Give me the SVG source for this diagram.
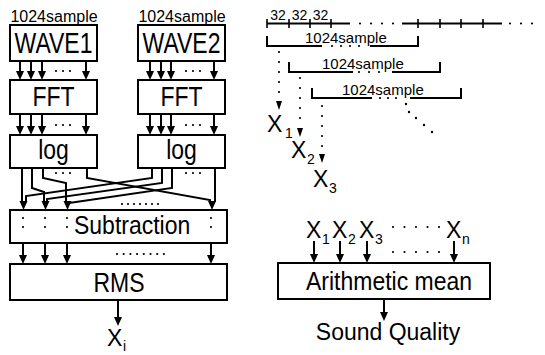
<svg xmlns="http://www.w3.org/2000/svg" width="545" height="355" viewBox="0 0 545 355">
<style>
.box{fill:#fff;stroke:#000;stroke-width:2}
.ln{fill:none;stroke:#000;stroke-width:2}
.thin{fill:none;stroke:#000;stroke-width:1.6}
.dot{fill:none;stroke:#000;stroke-width:2.2;stroke-linecap:round}
.big{font-family:"Liberation Sans",Arial,Helvetica,sans-serif;font-size:23px;fill:#000}
.mid{font-family:"Liberation Sans",Arial,Helvetica,sans-serif;font-size:16px;fill:#000}
.sm{font-family:"Liberation Sans",Arial,Helvetica,sans-serif;font-size:15px;fill:#000}
.xs{font-family:"Liberation Sans",Arial,Helvetica,sans-serif;font-size:14px;fill:#000}
.sub{font-family:"Liberation Sans",Arial,Helvetica,sans-serif;font-size:14px;fill:#000}
.c{text-anchor:middle}
</style>
<defs>
<path id="ah" d="M-4,-9 L4,-9 L0,0 Z" fill="#000"/>
<path id="ahs" d="M-3,-9 L3,-9 L0,0 Z" fill="#000"/>
</defs>

<g id="wave1">
<text class="mid c" x="54" y="22">1024sample</text>
<rect class="box" x="10" y="25" width="87" height="36"/>
<text class="big c" transform="translate(53.5,53) scale(1,1.25)">WAVE1</text>
</g>
<g id="wave2">
<text class="mid c" x="182" y="22">1024sample</text>
<rect class="box" x="138" y="25" width="87" height="36"/>
<text class="big c" transform="translate(181.5,53) scale(1,1.25)">WAVE2</text>
</g>
<g id="fft1">
<rect class="box" x="10" y="80" width="87" height="34"/>
<text class="big c" transform="translate(53.5,106) scale(1,1.2)">FFT</text>
</g>
<g id="fft2">
<rect class="box" x="138" y="80" width="87" height="34"/>
<text class="big c" transform="translate(181.5,106) scale(1,1.2)">FFT</text>
</g>
<g id="log1">
<rect class="box" x="10" y="135" width="87" height="33"/>
<text class="big c" transform="translate(53.5,159) scale(1,1.2)">log</text>
</g>
<g id="log2">
<rect class="box" x="138" y="135" width="87" height="33"/>
<text class="big c" transform="translate(181.5,159) scale(1,1.2)">log</text>
</g>
<g id="subtraction">
<rect class="box" x="10" y="210" width="217" height="33"/>
<path class="dot" d="M23,218 V236 M45,218 V236 M67,218 V236 M211,218 V236" stroke-dasharray="0 9"/>
<text class="big" transform="translate(74,234) scale(1,1.15)">Subtraction</text>
</g>
<g id="rms">
<rect class="box" x="10" y="264" width="217" height="36"/>
<text class="big c" transform="translate(119,292) scale(1,1.18)">RMS</text>
</g>
<g id="xi">
<text class="big" x="107" y="346">X</text><text class="sub" x="123" y="351">i</text>
</g>

<g id="timeline">
<path class="ln" d="M267,23.5 H350 M402,23.5 H502"/>
<path class="dot" d="M360,23.5 H394 M510,23.5 H543" stroke-dasharray="0 11"/>
<path class="thin" d="M267,19 V28 M289,19 V28 M310,19 V28 M331,19 V28 M418,19 V28 M440,19 V28 M461,19 V28 M483,19 V28"/>
<text class="xs c" x="278" y="20">32</text>
<text class="xs c" x="299.5" y="20">32</text>
<text class="xs c" x="320.5" y="20">32</text>
</g>
<g id="frame1">
<path class="ln" d="M267,36 V46 H322 M370,46 H418 V36"/>
<path class="dot" d="M332,46 H368" stroke-dasharray="0 9"/>
<text class="sm" x="305" y="43">1024sample</text>
</g>
<g id="frame2">
<path class="ln" d="M289,62 V72 H353 M392,72 H440 V62"/>
<path class="dot" d="M359,72 H389" stroke-dasharray="0 10"/>
<text class="sm" x="322" y="69">1024sample</text>
</g>
<g id="frame3">
<path class="ln" d="M312,88 V98 H372 M410,98 H461 V88"/>
<path class="dot" d="M380,98 H404" stroke-dasharray="0 8"/>
<text class="sm" x="342" y="95">1024sample</text>
</g>
<g id="x1">
<text class="big" x="267" y="132">X</text><text class="sub" x="285" y="138">1</text>
</g>
<g id="x2">
<text class="big" x="291" y="158">X</text><text class="sub" x="307" y="164">2</text>
</g>
<g id="x3">
<text class="big" x="313" y="187">X</text><text class="sub" x="329" y="193">3</text>
</g>

<g id="mean">
<rect class="box" x="278" y="263" width="212" height="36"/>
<text class="big c" transform="translate(389,290) scale(1,1.12)">Arithmetic mean</text>
</g>
<g id="inputs">
<text class="big" x="306" y="238">X</text><text class="sub" x="322" y="244">1</text>
<text class="big" x="332" y="238">X</text><text class="sub" x="348" y="244">2</text>
<text class="big" x="359" y="238">X</text><text class="sub" x="375" y="244">3</text>
<text class="big" x="446" y="238">X</text><text class="sub" x="462" y="244">n</text>
<path class="dot" d="M393,227 H440 M393,252 H440" stroke-dasharray="0 11.5"/>
</g>
<g id="quality">
<text class="big c" transform="translate(388,340) scale(1,1.08)">Sound Quality</text>
</g>

<g id="connectors">
<path class="ln" d="M20,61 V72 M31,61 V72 M42,61 V72 M86,61 V72 M150,61 V72 M161,61 V72 M171,61 V72 M214,61 V72"/>
<use href="#ah" x="20" y="80"/><use href="#ah" x="31" y="80"/><use href="#ah" x="42" y="80"/><use href="#ah" x="86" y="80"/>
<use href="#ah" x="150" y="80"/><use href="#ah" x="161" y="80"/><use href="#ah" x="171" y="80"/><use href="#ah" x="214" y="80"/>
<path class="ln" d="M20,114 V127 M31,114 V127 M42,114 V127 M86,114 V127 M150,114 V127 M161,114 V127 M171,114 V127 M214,114 V127"/>
<use href="#ah" x="20" y="135"/><use href="#ah" x="31" y="135"/><use href="#ah" x="42" y="135"/><use href="#ah" x="86" y="135"/>
<use href="#ah" x="150" y="135"/><use href="#ah" x="161" y="135"/><use href="#ah" x="171" y="135"/><use href="#ah" x="214" y="135"/>
<path class="dot" d="M56,71 H77 M186,71 H207 M56,125 H77 M186,125 H207 M56,173 H77 M186,173 H207" stroke-dasharray="0 7"/>
<path class="ln" d="M22,168 V202 M32,168 V188 L44,192 V202 M43,168 V178 L66,183 V202 M87,168 V178 L210,200 V202"/>
<path class="ln" d="M152,168 V178 L26,196 V202 M162,168 V183 L47,199 V202 M172,168 V188 L69,203 M215,168 V202"/>
<use href="#ah" x="23.5" y="210"/><use href="#ah" x="45.5" y="210"/><use href="#ah" x="67.5" y="210"/><use href="#ah" x="212" y="210"/>
<path class="dot" d="M122,204 H164" stroke-dasharray="0 6"/>
<path class="ln" d="M23,243 V256 M45,243 V256 M67,243 V256 M211,243 V256"/>
<use href="#ah" x="23" y="264"/><use href="#ah" x="45" y="264"/><use href="#ah" x="67" y="264"/><use href="#ah" x="211" y="264"/>
<path class="dot" d="M117,254 H164" stroke-dasharray="0 6.7"/>
<path class="ln" d="M118,300 V318"/>
<use href="#ah" x="118" y="326"/>
<path class="dot" d="M279,52 V94 M300,78 V124 M322,106 V150" stroke-dasharray="0 10"/>
<use href="#ahs" x="279" y="110"/><use href="#ahs" x="300" y="137"/><use href="#ahs" x="322" y="163"/>
<g fill="#000"><circle cx="406" cy="104" r="1.2"/><circle cx="409" cy="112" r="1.2"/><circle cx="416" cy="118" r="1.2"/><circle cx="424" cy="125" r="1.2"/><circle cx="432" cy="132" r="1.2"/></g>
<path class="ln" d="M314,241 V255 M340,241 V255 M367,241 V255 M454,241 V255"/>
<use href="#ah" x="314" y="263"/><use href="#ah" x="340" y="263"/><use href="#ah" x="367" y="263"/><use href="#ah" x="454" y="263"/>
<path class="ln" d="M384,299 V313"/>
<use href="#ah" x="384" y="321"/>
</g>
</svg>
